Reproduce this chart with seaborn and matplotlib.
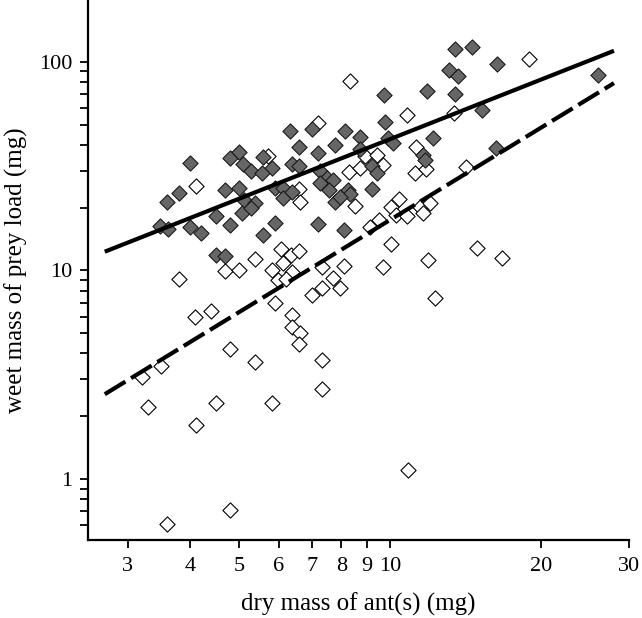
import seaborn as sns
import matplotlib.pyplot as plt
import matplotlib.ticker as mticker
import pandas as pd

# dry mass of ant(s) (mg) and wet mass of prey load (mg)
filled_x = [3.99, 3.79, 3.59, 3.48, 3.61, 3.99, 4.20, 4.50, 4.80, 4.69,
            4.80, 5.00, 5.10, 5.29, 5.00, 5.12, 5.38, 5.07, 5.29, 5.59,
            5.91, 4.50, 4.69, 5.59, 5.81, 5.56, 6.31, 6.60, 6.39, 6.60,
            5.89, 6.11, 6.13, 6.39, 7.01, 7.20, 7.27, 7.48, 7.69, 7.24,
            7.55, 7.79, 8.13, 7.79, 8.71, 8.24, 8.32, 7.94, 7.20, 8.09,
            8.71, 9.20, 9.42, 9.20, 9.73, 9.77, 9.91, 10.14, 13.49, 14.59,
            16.39, 13.12, 13.68, 11.86, 13.49, 15.28, 26.0, 12.19, 11.64, 11.75,
            16.31]
filled_y = [32.8, 23.5, 21.3, 16.3, 15.8, 16.2, 15.1, 18.3, 16.5, 24.3,
            34.7, 37.0, 32.4, 30.0, 24.9, 21.8, 21.1, 18.9, 20.0, 14.8,
            16.9, 11.9, 11.7, 35.0, 31.0, 29.4, 46.7, 39.1, 32.4, 31.7,
            24.9, 24.9, 22.3, 23.8, 47.7, 36.6, 30.0, 27.8, 27.2, 26.3,
            24.3, 21.3, 46.7, 40.0, 43.7, 24.3, 23.3, 22.5, 16.7, 15.6,
            38.3, 31.7, 29.4, 24.6, 69.5, 51.5, 43.2, 40.9, 115, 118,
            97.8, 91.6, 85.7, 72.6, 70.3, 58.9, 86.6, 43.2, 35.8, 33.9,
            38.7]

open_x = [4.10, 3.79, 4.69, 5.00, 5.38, 8.32, 7.20, 5.72, 6.60, 6.63,
          8.28, 8.71, 8.51, 6.08, 6.34, 6.60, 5.81, 6.11, 6.39, 5.97,
          6.22, 7.31, 8.09, 7.72, 7.94, 7.31, 7.01, 9.25, 9.51, 9.15,
          8.91, 9.42, 9.68, 10.07, 10.42, 10.07, 9.68, 10.82, 13.43, 11.27,
          11.22, 11.80, 14.19, 10.28, 10.82, 11.48, 12.02, 11.64, 14.94, 16.76,
          11.91, 12.30, 18.91, 4.08, 4.40, 5.89, 6.39, 6.39, 6.63, 6.60,
          4.80, 5.38, 7.31, 3.49, 3.20, 7.31, 3.29, 4.50, 5.81, 4.10,
          10.86, 4.80, 3.59]
open_y = [25.4, 9.10, 9.95, 10.05, 11.4, 81.1, 50.9, 35.4, 24.6, 21.3,
          29.7, 31.0, 20.4, 12.7, 11.9, 12.4, 10.05, 10.9, 9.84, 9.00,
          9.10, 10.4, 10.5, 9.2, 8.24, 8.2, 7.65, 34.3, 17.5, 16.2,
          35.4, 35.8, 32.1, 20.2, 22.0, 13.4, 10.4, 55.7, 56.9, 39.1,
          29.4, 30.7, 31.4, 18.5, 18.3, 20.2, 21.1, 18.9, 12.8, 11.5,
          11.2, 7.4, 103, 5.99, 6.39, 6.98, 6.12, 5.36, 5.01, 4.44,
          4.20, 3.64, 3.72, 3.48, 3.08, 2.70, 2.21, 2.32, 2.32, 1.82,
          1.10, 0.71, 0.61]

# fitted lines (end points)
fit_x = [2.70, 28.0]
fit_filled_y = [12.3, 113]
fit_open_y = [2.55, 79.1]

x_ticks = [3, 4, 5, 6, 7, 8, 9, 10, 20, 30]
y_ticks = [1, 10, 100]

filled = pd.DataFrame({'ant': filled_x, 'prey': filled_y})
opened = pd.DataFrame({'ant': open_x, 'prey': open_y})

sns.set_theme(style='ticks')
plt.rcParams['font.family'] = ['Liberation Serif', 'DejaVu Serif']

fig = plt.figure(figsize=(6.42, 6.18), dpi=100)
ax = fig.add_axes([88 / 642, 78 / 618, 541 / 642, 540 / 618])

sns.scatterplot(data=opened, x='ant', y='prey', marker='D', s=60,
                color='white', edgecolor='black', linewidth=0.8, ax=ax, zorder=2)
sns.scatterplot(data=filled, x='ant', y='prey', marker='D', s=60,
                color='#666666', edgecolor='#1a1a1a', linewidth=0.8, ax=ax, zorder=3)

ax.plot(fit_x, fit_filled_y, color='black', lw=3, solid_capstyle='butt', zorder=4)
ax.plot(fit_x, fit_open_y, color='black', lw=3, dashes=(5.8, 1.6),
        dash_capstyle='butt', zorder=4)

ax.set_xscale('log')
ax.set_yscale('log')
ax.set_xlim(2.5, 30)
ax.set_ylim(0.51, 198)

ax.xaxis.set_minor_locator(mticker.NullLocator())
ax.set_xticks(x_ticks)
ax.set_xticklabels([str(t) for t in x_ticks])
ax.set_yticks(y_ticks)
ax.set_yticklabels([str(t) for t in y_ticks])
ax.yaxis.set_minor_locator(mticker.LogLocator(base=10, subs=range(2, 10)))
ax.yaxis.set_minor_formatter(mticker.NullFormatter())

ax.tick_params(axis='both', which='both', direction='out', length=5.5,
               width=1.3, color='black', labelsize=16, labelcolor='black')
ax.tick_params(axis='x', pad=7)
ax.tick_params(axis='y', pad=6)
for side in ['top', 'right']:
    ax.spines[side].set_visible(False)
for side in ['left', 'bottom']:
    ax.spines[side].set_linewidth(1.6)
    ax.spines[side].set_color('black')

ax.set_xlabel('dry mass of ant(s) (mg)', fontsize=18, labelpad=12, color='black')
ax.set_ylabel('weet mass of prey load (mg)', fontsize=18, labelpad=8, color='black')

plt.savefig('out.png', dpi=100)
